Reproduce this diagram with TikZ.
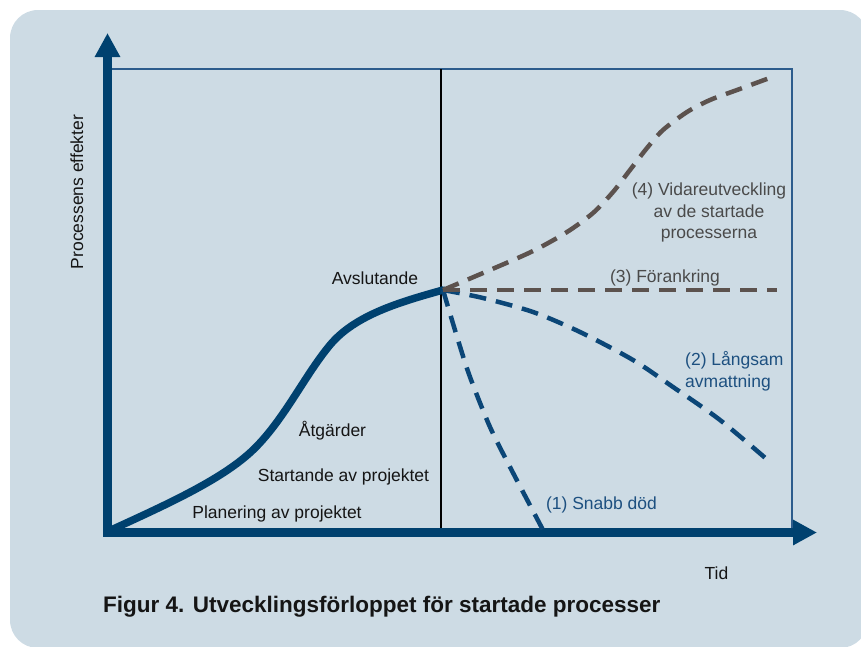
\documentclass[tikz,border=0pt]{standalone}
\usepackage{fontspec}
\setmainfont{Liberation Sans}
\usetikzlibrary{arrows.meta}
\definecolor{bg}{HTML}{CDDBE4}
\definecolor{axisblue}{HTML}{00416F}
\definecolor{frameblue}{HTML}{2C5C8C}
\definecolor{dashgray}{HTML}{5C524E}
\definecolor{dashblue}{HTML}{0B4677}
\definecolor{txtblue}{HTML}{1D5080}
\definecolor{txtgray}{HTML}{4A4A4A}
\definecolor{txtblack}{HTML}{151515}
\tikzset{
  lbl/.style={font=\fontsize{17.5}{21}\selectfont, inner sep=0pt, anchor=base, text=txtblack},
  gdash/.style={dashgray, line width=4.5pt, dash pattern=on 17pt off 10pt},
  bdash/.style={dashblue, line width=4.5pt, dash pattern=on 17pt off 10pt},
  axisline/.style={axisblue, line width=8.5pt, line join=miter},
  bighead/.tip={Triangle[length=24pt,width=24pt]}
}
\begin{document}
\begin{tikzpicture}[x=1pt,y=-1pt]
\useasboundingbox (0,0) rectangle (861,646);
\fill[bg, rounded corners=28pt] (10,10) rectangle (868,648);

% coordinates
\coordinate (ytip) at (107.5,33);
\coordinate (orig) at (107.5,532.5);
\coordinate (xtip) at (817,532.5);
\coordinate (tl) at (107.5,69);
\coordinate (tr) at (792,69);
\coordinate (br) at (792,532);
\coordinate (dtop) at (441,69);
\coordinate (dbot) at (441,532);
\coordinate (start) at (111,530);
\coordinate (fork) at (443,290);

% frame and divider
\draw[frameblue, line width=1.2pt] (tl) -- (tr) -- (br);
\draw[black, line width=1.3pt] (dtop) -- (dbot);

% axes
\draw[axisline, {bighead}-{bighead}] (ytip) -- (orig) -- (xtip);

% main curve
\draw[axisblue, line width=7.5pt, line cap=round]
  (start) .. controls (170,503) and (225,478) .. (255,448)
          .. controls (285,418) and (305,375) .. (330,345)
          .. controls (355,315) and (400,302) .. (fork);

% blue dashed branches
\draw[bdash] plot[smooth] coordinates
 {(fork) (483,298) (533,312) (580,332) (633,360) (673,387) (720,420) (770,462)};
\draw[bdash] plot[smooth] coordinates
 {(fork) (458,340) (470,377) (490,427) (510,467) (543,530)};

% gray dashed branches
\coordinate (fend) at (777,290);
\draw[gdash] (fork) -- (fend);
\draw[gdash] plot[smooth] coordinates
 {(fork) (490,270) (533,251) (567,232) (593,213) (613,192) (630,170) (647,148) (663,130) (687,112) (710,100) (737,90) (775,76)};

% labels
\node[lbl] (avs) at (375,284) {Avslutande};
\node[lbl] (atg) at (332.5,436) {Åtgärder};
\node[lbl] (sta) at (343.5,481) {Startande av projektet};
\node[lbl] (pla) at (277,518) {Planering av projektet};
\node[lbl, text=txtgray] (l3) at (665,282) {(3) Förankring};
\node[lbl, text=txtblue, anchor=base west] (l2a) at (685,365) {(2) Långsam};
\node[lbl, text=txtblue, anchor=base west] (l2b) at (685,387) {avmattning};
\node[lbl, text=txtgray] (l4a) at (709,195) {(4) Vidareutveckling};
\node[lbl, text=txtgray] (l4b) at (709,217) {av de startade};
\node[lbl, text=txtgray] (l4c) at (709,238) {processerna};
\node[lbl, text=txtblue] (l1) at (601.5,509) {(1) Snabb död};
\node[lbl] (tid) at (716.5,579) {Tid};
\node[lbl, rotate=90] (yl) at (83,192) {Processens effekter};
\node[lbl, anchor=base west, font=\fontsize{22.5}{26}\selectfont\bfseries] (cap) at (103,612)
  {Figur 4. Utvecklingsförloppet för startade processer};
\end{tikzpicture}
\end{document}
